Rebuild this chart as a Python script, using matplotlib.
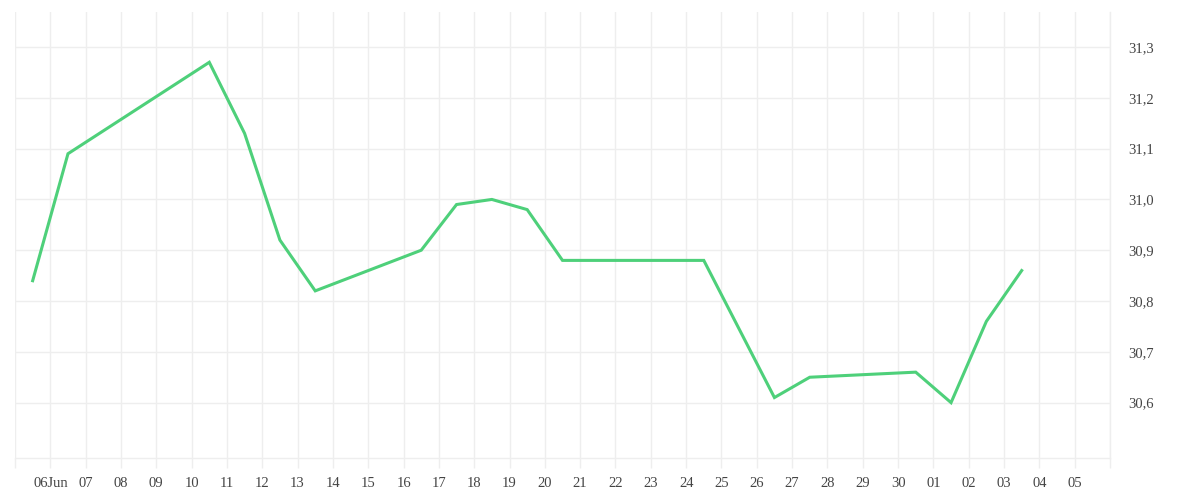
import numpy as np
import matplotlib.pyplot as plt
import matplotlib.dates as mdates
import matplotlib.ticker as mticker
import pandas as pd

dates = ["2023-06-05 12:00", "2023-06-06 12:00", "2023-06-10 12:00", "2023-06-11 12:00",
         "2023-06-12 12:00", "2023-06-13 12:00", "2023-06-16 12:00", "2023-06-17 12:00",
         "2023-06-18 12:00", "2023-06-19 12:00", "2023-06-20 12:00", "2023-06-24 12:00",
         "2023-06-26 12:00", "2023-06-27 12:00", "2023-06-30 12:00", "2023-07-01 12:00",
         "2023-07-02 12:00", "2023-07-03 12:00"]
values = [30.84, 31.09, 31.27, 31.13, 30.92, 30.82, 30.90, 30.99, 31.00, 30.98,
          30.88, 30.88, 30.61, 30.65, 30.66, 30.60, 30.76, 30.86]
y_ticks = [30.6, 30.7, 30.8, 30.9, 31.0, 31.1, 31.2, 31.3]

x = pd.to_datetime(dates)
days = pd.date_range("2023-06-05", "2023-07-06", freq="D")

plt.rcParams['font.family'] = ['Liberation Serif', 'DejaVu Serif']

fig = plt.figure(figsize=(12, 5), dpi=100)
ax = fig.add_axes([15 / 1200, 42 / 500, 1095 / 1200, 446 / 500])

ax.plot(x, values, color="#4ed07a", linewidth=2.2, solid_joinstyle="miter")

ax.set_xlim(days[0], days[-1])
ax.set_ylim(30.491, 31.369)

# x ticks: one per day, gridlines, labels only Jun 6 .. Jul 5
ax.set_xticks(mdates.date2num(days))
labels = []
for i, d in enumerate(days):
    if i == 0 or i == len(days) - 1:
        labels.append("")
    elif i == 1:
        labels.append(d.strftime("%d") + "Jun")
    else:
        labels.append(d.strftime("%d"))
ax.set_xticklabels(labels)

ax.set_yticks(y_ticks)
ax.yaxis.set_major_formatter(mticker.FuncFormatter(lambda v, p: f"{v:.1f}".replace(".", ",")))
ax.yaxis.tick_right()

ax.grid(True, color="#eeeeee", linewidth=1)
ax.tick_params(axis="x", length=7, color="#eeeeee", width=1, pad=7, labelsize=10.5, labelcolor="#444444")
ax.tick_params(axis="y", length=0, pad=13, labelsize=10.5, labelcolor="#444444")

for s in ["top", "left"]:
    ax.spines[s].set_visible(False)
for s in ["bottom", "right"]:
    ax.spines[s].set_color("#eeeeee")
    ax.spines[s].set_linewidth(1)

fig.savefig("out.png", dpi=100)
